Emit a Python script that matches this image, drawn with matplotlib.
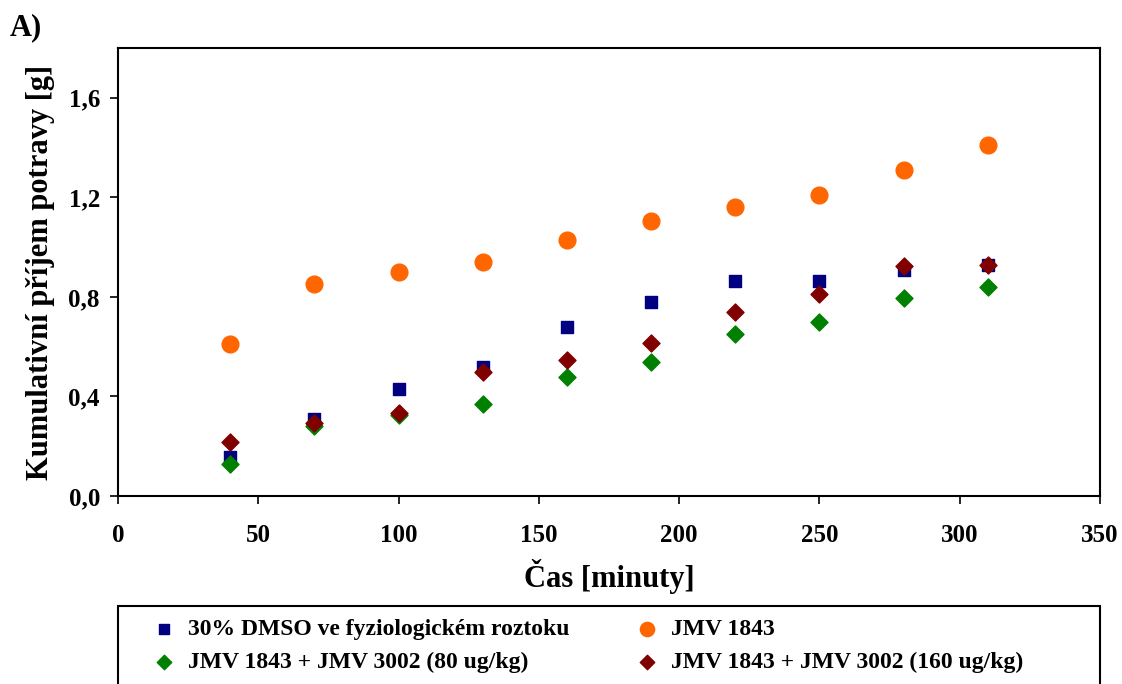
import matplotlib.pyplot as plt
from matplotlib.patches import Rectangle
from matplotlib.ticker import FuncFormatter

plt.rcParams['font.family'] = ['Liberation Serif', 'DejaVu Serif']
plt.rcParams['font.weight'] = 'bold'

cas = [40, 70, 100, 130, 160, 190, 220, 250, 280, 310]
dmso = [0.157, 0.31, 0.43, 0.52, 0.68, 0.78, 0.865, 0.865, 0.91, 0.93]
jmv1843 = [0.61, 0.85, 0.90, 0.94, 1.03, 1.105, 1.16, 1.21, 1.31, 1.41]
jmv80 = [0.13, 0.28, 0.325, 0.37, 0.48, 0.54, 0.65, 0.70, 0.795, 0.84]
jmv160 = [0.215, 0.295, 0.335, 0.50, 0.545, 0.615, 0.74, 0.81, 0.925, 0.93]

W, H = 1122, 684
fig = plt.figure(figsize=(W / 100, H / 100), dpi=100)
ax = fig.add_axes([118/W, 1 - 496/H, (1100-118)/W, (496-48)/H])

h1 = ax.scatter(cas, dmso, marker='s', s=85, color='#000080', label='30% DMSO ve fyziologickém roztoku', zorder=3)
h2 = ax.scatter(cas, jmv1843, marker='o', s=145, color='#FF6600', label='JMV 1843', zorder=3)
h3 = ax.scatter(cas, jmv80, marker='D', s=75, color='#008000', label='JMV 1843 + JMV 3002 (80 ug/kg)', zorder=4)
h4 = ax.scatter(cas, jmv160, marker='D', s=75, color='#800000', label='JMV 1843 + JMV 3002 (160 ug/kg)', zorder=5)

ax.set_xlim(0, 350)
ax.set_ylim(0, 1.8)
ax.set_xticks(range(0, 351, 50))
ax.set_yticks([0, 0.4, 0.8, 1.2, 1.6])
ax.yaxis.set_major_formatter(FuncFormatter(lambda v, p: f'{v:.1f}'.replace('.', ',')))
ax.tick_params(direction='out', length=6, width=1.2, labelsize=18)
ax.tick_params(axis='x', pad=14)
ax.tick_params(axis='y', pad=7)
for sp in ax.spines.values():
    sp.set_linewidth(1.5)

ax.set_xlabel('Čas [minuty]', fontsize=22, fontweight='bold', labelpad=9)
ax.set_ylabel('Kumulativní příjem potravy [g]', fontsize=22, fontweight='bold', labelpad=10)

fig.text(10/W, 1 - 28/H, 'A)', fontsize=22, fontweight='bold', va='center')

# legend frame reaching past the bottom edge
fig.patches.append(Rectangle((118/W, -0.05), (1100-118)/W, 0.05 + 1 - 606/H,
                             transform=fig.transFigure, fill=False,
                             edgecolor='black', linewidth=1.5))

leg = fig.legend([h1, h3, h2, h4], [h.get_label() for h in [h1, h3, h2, h4]],
                 loc='upper left', bbox_to_anchor=(130/W, 1 - 608/H),
                 ncol=2, fontsize=17, frameon=False, handletextpad=0.0,
                 borderaxespad=0, labelspacing=0.5, borderpad=0.45,
                 markerscale=0.85, columnspacing=2.3)

fig.savefig('out.png', dpi=100)
